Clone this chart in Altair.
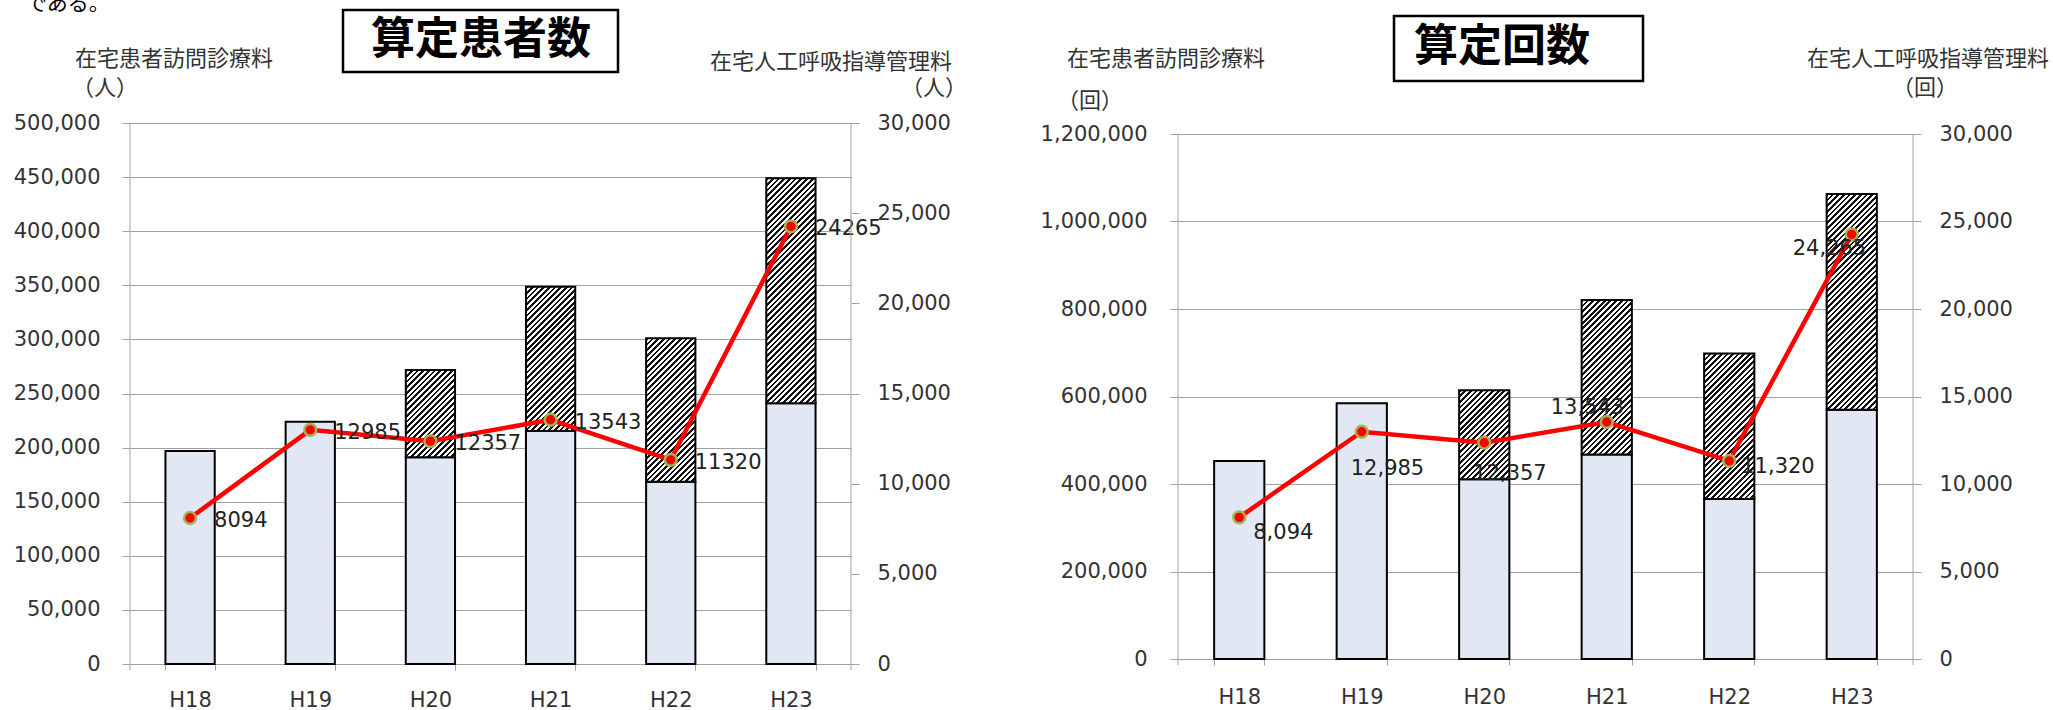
import altair as alt
import pandas as pd

# ---------------- data ----------------
years = ["H18", "H19", "H20", "H21", "H22", "H23"]

# 算定患者数 (left chart)
patients_total = [196900, 223900, 271700, 348700, 301000, 448900]
patients_lower = [196900, 223900, 191000, 215300, 168500, 240900]
vent_patients = [8094, 12985, 12357, 13543, 11320, 24265]

# 算定回数 (right chart)
counts_total = [452800, 584400, 614400, 820800, 698200, 1063000]
counts_lower = [452800, 584400, 410900, 467700, 366000, 569500]
vent_counts = [8094, 12985, 12357, 13543, 11320, 24265]

left_ticks = list(range(0, 500001, 50000))
count_ticks = list(range(0, 1200001, 200000))
vent_ticks = list(range(0, 30001, 5000))

# ---------------- style ----------------
FONT_NUM = "DejaVu Sans"
FONT_JP = "Noto Sans CJK JP"
GRID = "#a0a0a0"
TXT = "#333333"
DOT_FILL = "#e1e8f4"
RED = "#ff0000"
BAND_FRAC = 0.41
one = pd.DataFrame({"k": [0]})


def hatch(w, h, period=4.0, frac=0.48):
    s = w * w + h * h
    x2 = w * (w + h) / s
    y2 = h * (w + h) / s
    L = (w + h) / 2 ** 0.5
    n = max(1, int(round(L / period)))
    stops = []
    for k in range(n):
        a = k / n
        b = (k + frac) / n
        c = (k + 1) / n
        stops += [
            {"offset": a, "color": "#111111"},
            {"offset": b, "color": "#111111"},
            {"offset": b, "color": "#ffffff"},
            {"offset": c, "color": "#ffffff"},
        ]
    return {"gradient": "linear", "x1": 0, "y1": 0, "x2": x2, "y2": y2, "stops": stops}


def txt(s, x, y, size, align="left", bold=False, font=FONT_JP, color=TXT, baseline="middle"):
    return alt.Chart(one).mark_text(
        text=s, align=align, baseline=baseline, font=font, fontSize=size,
        fontWeight="bold" if bold else "normal", color=color
    ).encode(x=alt.value(x), y=alt.value(y))


def box(x1, x2, y1, y2):
    return alt.Chart(one).mark_rect(fill="white", stroke="black", strokeWidth=2.5).encode(
        x=alt.value(x1), x2=alt.value(x2), y=alt.value(y1), y2=alt.value(y2)
    )


def panel(total, lower, vent, W, H, plot_h, y_dom, y_ticks, v_dom, vent_fmt,
          label_specs, annos, xpad, ypad_l, ypad_r):
    df = pd.DataFrame({"year": years, "total": total, "lower": lower, "vent": vent})
    base = alt.Chart(df)
    xenc = alt.X(
        "year:N", sort=years, title=None,
        scale=alt.Scale(paddingInner=1 - BAND_FRAC, paddingOuter=(1 - BAND_FRAC) / 2),
        axis=alt.Axis(labelAngle=0, tickBand="extent", tickSize=6, tickColor=GRID,
                      domainColor=GRID, labelPadding=xpad, labelFont=FONT_NUM,
                      labelFontSize=21, labelColor=TXT, grid=False),
    )
    yscale = alt.Scale(domain=[0, y_dom], nice=False)
    yaxis = alt.Axis(values=y_ticks, format=",.0f", grid=True, gridColor=GRID, domain=False,
                     tickSize=8, tickColor=GRID, labelPadding=ypad_l, labelFont=FONT_NUM,
                     labelFontSize=21, labelColor=TXT, title=None)
    bar_layers = [
        base.mark_bar(fill=DOT_FILL, stroke="#000000", strokeWidth=2).encode(
            x=xenc, y=alt.Y("lower:Q", scale=yscale, axis=yaxis))
    ]
    bw = BAND_FRAC * W / 6
    for yr, t, lo in zip(years, total, lower):
        if t > lo:
            h = (t - lo) / y_dom * H
            bar_layers.append(
                base.transform_filter(alt.datum.year == yr)
                .mark_bar(fill=hatch(bw, h), stroke="#000000", strokeWidth=2)
                .encode(x=xenc, y=alt.Y("lower:Q", scale=yscale, axis=yaxis), y2="total:Q")
            )
    bars = alt.layer(*bar_layers)

    vscale = alt.Scale(domain=[0, v_dom], nice=False)
    vaxis = alt.Axis(orient="right", values=vent_ticks, format=",.0f", grid=False, domain=False,
                     tickSize=8, tickColor=GRID, labelPadding=ypad_r, labelFont=FONT_NUM,
                     labelFontSize=21, labelColor=TXT, title=None)
    venc = alt.Y("vent:Q", scale=vscale, axis=vaxis)
    line = base.mark_line(color=RED, strokeWidth=4.5).encode(x=xenc, y=venc)
    pts = base.mark_circle(color=RED, opacity=1, size=140, stroke="#a3b257", strokeWidth=2.5).encode(x=xenc, y=venc)
    labels = []
    for yr, (al, dx, dy) in zip(years, label_specs):
        labels.append(
            base.transform_filter(alt.datum.year == yr)
            .mark_text(align=al, baseline="middle", dx=dx, dy=dy, font=FONT_NUM, fontSize=21, color="#222222")
            .encode(x=xenc, y=venc, text=alt.Text("vent:Q", format=vent_fmt))
        )
    lines = alt.layer(line, pts, *labels)

    rules = [
        alt.Chart(one).mark_rule(color=GRID, strokeWidth=1).encode(
            x=alt.value(0), y=alt.value(H - plot_h), y2=alt.value(H + 6)),
        alt.Chart(one).mark_rule(color=GRID, strokeWidth=1).encode(
            x=alt.value(W), y=alt.value(H - plot_h), y2=alt.value(H + 6)),
    ]
    return alt.layer(bars, lines, *rules, *annos).resolve_scale(y="independent").properties(width=W, height=H)


# left panel: plot origin at page (130,123)
annos_left = [
    txt("である。", -104, -113, 21, baseline="alphabetic", color="#000000"),
    txt("在宅患者訪問診療料", -55, -64, 22),
    txt("（人）", -25, -35, 22, align="center"),
    box(213, 488, -113, -51),
    txt("算定患者数", 351, -82, 44, align="center", bold=True, color="#000000"),
    txt("在宅人工呼吸指導管理料", 822, -61, 22, align="right"),
    txt("（人）", 804, -35, 22, align="center"),
]
left_specs = [("left", 24, 3)] * 6
left = panel(patients_total, patients_lower, vent_patients, 721, 541, 541,
             500000, left_ticks, 30000, "d", left_specs, annos_left, 19, 22, 18)

# right panel: plot origin at page (1178,123)
RW, RH, RPH = 735, 536, 525
annos_right = [
    txt("在宅患者訪問診療料", -111, -64, 22),
    txt("（回）", -88, -22, 22, align="center"),
    box(216, 465, -107, -42),
    txt("算定回数", 324, -75, 44, align="center", bold=True, color="#000000"),
    txt("在宅人工呼吸指導管理料", 871, -64, 22, align="right"),
    txt("（回）", 747, -35, 22, align="center"),
]
right_specs = [("left", 14, 16), ("left", -11, 37), ("left", -11, 31),
               ("left", -56, -14), ("left", 12, 6), ("left", -59, 15)]
right = panel(counts_total, counts_lower, vent_counts, RW, RH, RPH,
              1200000 * RH / RPH, count_ticks, 30000 * RH / RPH, ",", right_specs,
              annos_right, 21, 23, 18)

chart = alt.hconcat(left, right, spacing=327, bounds="flush").properties(
    autosize=alt.AutoSizeParams(type="none"),
    padding={"left": 130, "top": 123, "right": 1923, "bottom": 587},
    background="white",
).configure_view(strokeWidth=0)

chart.save("out.html", embed_options={"renderer": "svg", "actions": False})
